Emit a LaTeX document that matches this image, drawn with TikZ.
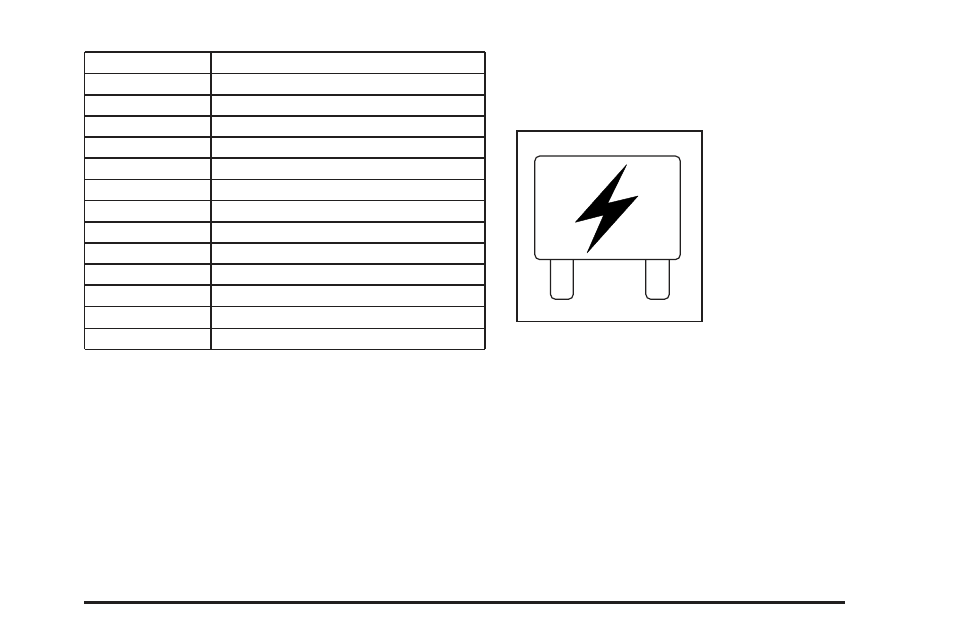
\documentclass[tikz,border=0pt]{standalone}
\usepackage{tikz}
\definecolor{inkblack}{rgb}{0.13,0.12,0.12}
\tikzset{
	tablerule/.style={draw=inkblack,line width=1.3pt},
	thinrule/.style={draw=inkblack,line width=0.9pt},
	fuseline/.style={draw=inkblack,line width=1.2pt,rounded corners=5pt},
}
\begin{document}
\begin{tikzpicture}[x=1pt,y=-1pt]
	\useasboundingbox (0,0) rectangle (954,636);
	% table rows
	\foreach \y in {52,73.5,95,116,137,158,222,243,264,285}
	{
	\draw[tablerule] (84.5,\y) -- (485,\y);
	}
	\foreach \y in {179.5,200.5,306.5,328,349}
	{
	\draw[thinrule] (84.5,\y) -- (485,\y);
	}
	\draw[thinrule] (84.8,52) -- (84.8,349.4);
	\draw[tablerule,line width=1.6pt] (211,52) -- (211,349.4);
	\draw[tablerule] (485,52) -- (485,349.4);
	% fuse symbol
	\draw[tablerule,line width=1.7pt] (516.8,130.8) rectangle (702.3,321.6);
	\draw[fuseline] (550.5,259.6) -- (550.5,299.3) -- (573.3,299.3) -- (573.3,259.6);
	\draw[fuseline] (645.8,259.6) -- (645.8,299.3) -- (669.3,299.3) -- (669.3,259.6);
	\draw[fuseline] (534.8,156) rectangle (680.3,259.6);
	\filldraw[black,line width=0.4pt,line join=bevel] (626.7,164.6) -- (607.7,203.3) -- (638,196) -- (587,253) -- (603.7,215) -- (575.3,222.3) -- cycle;
	% bottom rule
	\draw[draw=inkblack,line width=2.4pt] (84,602.5) -- (845,602.5);
\end{tikzpicture}
\end{document}
